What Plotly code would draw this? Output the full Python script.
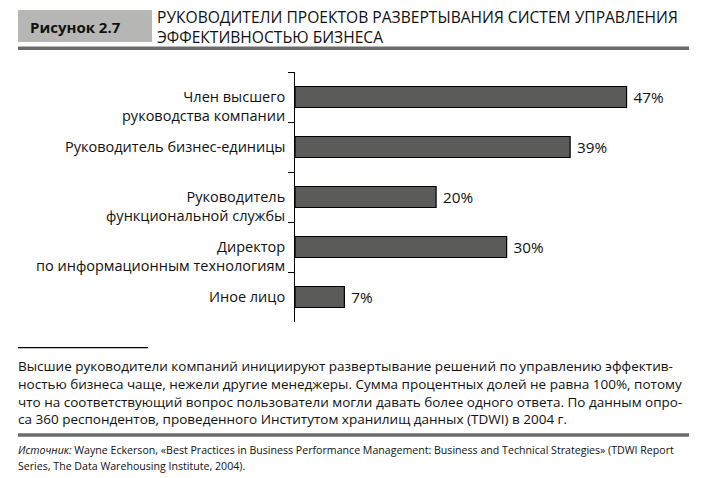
import plotly.graph_objects as go

categories = [
    "Член высшего<br>руководства компании",
    "Руководитель бизнес-единицы",
    "Руководитель<br>функциональной службы",
    "Директор<br>по информационным технологиям",
    "Иное лицо",
]
values = [47, 39, 20, 30, 7]

title_lines = [
    "РУКОВОДИТЕЛИ ПРОЕКТОВ РАЗВЕРТЫВАНИЯ СИСТЕМ УПРАВЛЕНИЯ",
    "ЭФФЕКТИВНОСТЬЮ БИЗНЕСА",
]
figure_label = "Рисунок 2.7"
note_lines = [
    "Высшие руководители компаний инициируют развертывание решений по управлению эффектив-",
    "ностью бизнеса чаще, нежели другие менеджеры. Сумма процентных долей не равна 100%, потому",
    "что на соответствующий вопрос пользователи могли давать более одного ответа. По данным опро-",
    "са 360 респондентов, проведенного Институтом хранилищ данных (TDWI) в 2004 г.",
]
source_lines = [
    "<i>Источник:</i> Wayne Eckerson, «Best Practices in Business Performance Management: Business and Technical Strategies» (TDWI Report",
    "Series, The Data Warehousing Institute, 2004).",
]

W, H = 701, 478
ML, MR, MT, MB = 295, 18, 72, 156
PW, PH = W - ML - MR, H - MT - MB
FONT = "Open Sans, Noto Sans, DejaVu Sans, sans-serif"


def px(x):
    return (x - ML) / PW


def py(y):
    return (H - MB - y) / PH


fig = go.Figure()
fig.add_trace(go.Bar(
    y=categories,
    x=values,
    orientation="h",
    width=0.42,
    marker=dict(color="#5b5c59", line=dict(color="#000000", width=1.2)),
    texttemplate="\u00a0%{x}%",
    textposition="outside",
    textfont=dict(size=16, color="#111111", family=FONT),
    cliponaxis=False,
    hoverinfo="skip",
))

annotations = []
for cat in categories:
    n = cat.count("<br>") + 1
    annotations.append(dict(
        x=0, xref="paper", xanchor="right", xshift=-8,
        y=cat, yref="y", yanchor="middle", yshift=-(n - 1) * 9.5 + 1,
        text=cat, showarrow=False, align="right",
        font=dict(size=14.5, color="#111111", family=FONT),
    ))

annotations.append(dict(
    x=px(28), xref="paper", xanchor="left",
    y=py(26.5), yref="paper", yanchor="middle",
    text="<b>" + figure_label + "</b>", showarrow=False,
    font=dict(size=15, color="#111111", family=FONT),
))
annotations.append(dict(
    x=px(155), xref="paper", xanchor="left",
    y=py(26.8), yref="paper", yanchor="middle",
    text="<br>".join(title_lines), showarrow=False, align="left",
    font=dict(size=15.6, color="#111111", family=FONT),
))
for i, t in enumerate(note_lines):
    annotations.append(dict(
        x=px(16), xref="paper", xanchor="left",
        y=py(365.7 + i * 17.9), yref="paper", yanchor="middle",
        text=t, showarrow=False,
        font=dict(size=13.5, color="#111111", family=FONT),
    ))
for i, t in enumerate(source_lines):
    annotations.append(dict(
        x=px(16), xref="paper", xanchor="left",
        y=py(450 + i * 16), yref="paper", yanchor="middle",
        text=t, showarrow=False,
        font=dict(size=10.62, color="#111111", family=FONT),
    ))

shapes = [
    dict(type="rect", xref="paper", yref="paper",
         x0=px(18), x1=px(152), y0=py(10), y1=py(42),
         fillcolor="#b6b7b4", line=dict(width=0), layer="below"),
    dict(type="line", xref="paper", yref="paper",
         x0=px(18), x1=px(689), y0=py(48.3), y1=py(48.3),
         line=dict(color="#6b6b6b", width=3.5)),
    dict(type="line", xref="paper", yref="paper",
         x0=px(18), x1=px(148), y0=py(347.7), y1=py(347.7),
         line=dict(color="#000000", width=1.3)),
    dict(type="line", xref="paper", yref="paper",
         x0=px(18), x1=px(689), y0=py(435), y1=py(435),
         line=dict(color="#6b6b6b", width=3.5)),
]

fig.update_layout(
    width=W, height=H, autosize=False,
    margin=dict(l=ML, r=MR, t=MT, b=MB, pad=0),
    paper_bgcolor="white", plot_bgcolor="white",
    showlegend=False,
    font=dict(family=FONT, color="#111111"),
    annotations=annotations,
    shapes=shapes,
    bargap=0.58,
)
fig.update_xaxes(range=[0, 55], visible=False, fixedrange=True)
fig.update_yaxes(
    type="category", categoryorder="array", categoryarray=categories,
    range=[len(categories) - 0.5, -0.5],
    showticklabels=False, tickson="boundaries", ticks="outside", ticklen=6,
    tickwidth=1.3, tickcolor="#000000",
    showline=True, linecolor="#000000", linewidth=1.3,
    showgrid=False, zeroline=False, fixedrange=True,
)

fig.write_html("out.html")
